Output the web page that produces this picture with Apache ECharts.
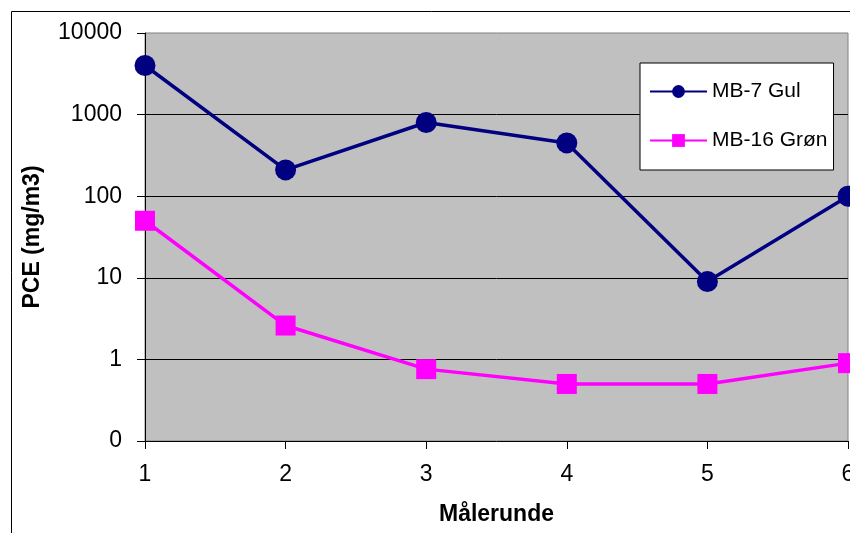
<!DOCTYPE html>
<html>
<head>
<meta charset="utf-8">
<script src="https://cdn.jsdelivr.net/npm/echarts@6/dist/echarts.min.js"></script>
<style>
html,body{margin:0;padding:0;background:#fff;}
#c{width:850px;height:533px;}
</style>
</head>
<body>
<div id="c"></div>
<script>
const categories = ['1','2','3','4','5','6'];
const seriesNames = ['MB-7 Gul','MB-16 Grøn'];
const mb7 = [4000, 210, 800, 450, 9, 100];
const mb16 = [50, 2.6, 0.76, 0.5, 0.5, 0.9];
const yTicks = [0.1, 1, 10, 100, 1000, 10000];

const chart = echarts.init(document.getElementById('c'), null, {renderer:'canvas'});
const font = 'Liberation Sans, Arial, sans-serif';
chart.setOption({
  animation:false,
  backgroundColor:'#fff',
  textStyle:{fontFamily:font},
  graphic:[{
    type:'rect', silent:true, z:-1,
    shape:{x:11.5,y:11.5,width:900,height:600},
    style:{fill:'#fff',stroke:'#000',lineWidth:1}
  }],
  grid:{left:145,top:33,right:2,bottom:92,show:true,backgroundColor:'#c0c0c0',borderColor:'#808080',borderWidth:1,outerBoundsMode:'none',containLabel:false},
  legend:{
    orient:'vertical', left:640, top:63,
    backgroundColor:'#fff', borderColor:'#000', borderWidth:1,
    padding:[18,6,19,9], itemGap:28, itemWidth:57, itemHeight:16,
    textStyle:{fontSize:21,color:'#000',fontFamily:font},
    data:seriesNames
  },
  xAxis:{
    type:'category', data:categories, boundaryGap:false,
    name:'Målerunde', nameLocation:'middle', nameGap:62,
    nameTextStyle:{fontSize:23,fontWeight:'bold',color:'#000'},
    axisLine:{lineStyle:{color:'#000',width:1}},
    axisTick:{show:true,length:8,lineStyle:{color:'#000'},alignWithLabel:true},
    axisLabel:{fontSize:23,color:'#000',margin:22},
    splitLine:{show:false}
  },
  yAxis:{
    type:'log', logBase:10, min:yTicks[0], max:yTicks[yTicks.length-1],
    name:'PCE (mg/m3)', nameLocation:'middle', nameGap:101,
    nameTextStyle:{fontSize:23,fontWeight:'bold',color:'#000'},
    axisLine:{show:true,lineStyle:{color:'#000',width:1}},
    axisTick:{show:true,length:8,lineStyle:{color:'#000'}},
    axisLabel:{fontSize:23,color:'#000',margin:23,formatter:function(v){return v<1?'0':String(Math.round(v));}},
    splitLine:{show:true,showMinLine:false,showMaxLine:false,lineStyle:{color:'#000',width:1}},
    minorTick:{show:false}
  },
  series:[
    {name:seriesNames[0],type:'line',data:mb7,symbol:'circle',symbolSize:21,
     lineStyle:{color:'#000080',width:3.5},itemStyle:{color:'#000080'}},
    {name:seriesNames[1],type:'line',data:mb16,symbol:'rect',symbolSize:20,
     lineStyle:{color:'#ff00ff',width:3.5},itemStyle:{color:'#ff00ff'}}
  ]
});
</script>
</body>
</html>
